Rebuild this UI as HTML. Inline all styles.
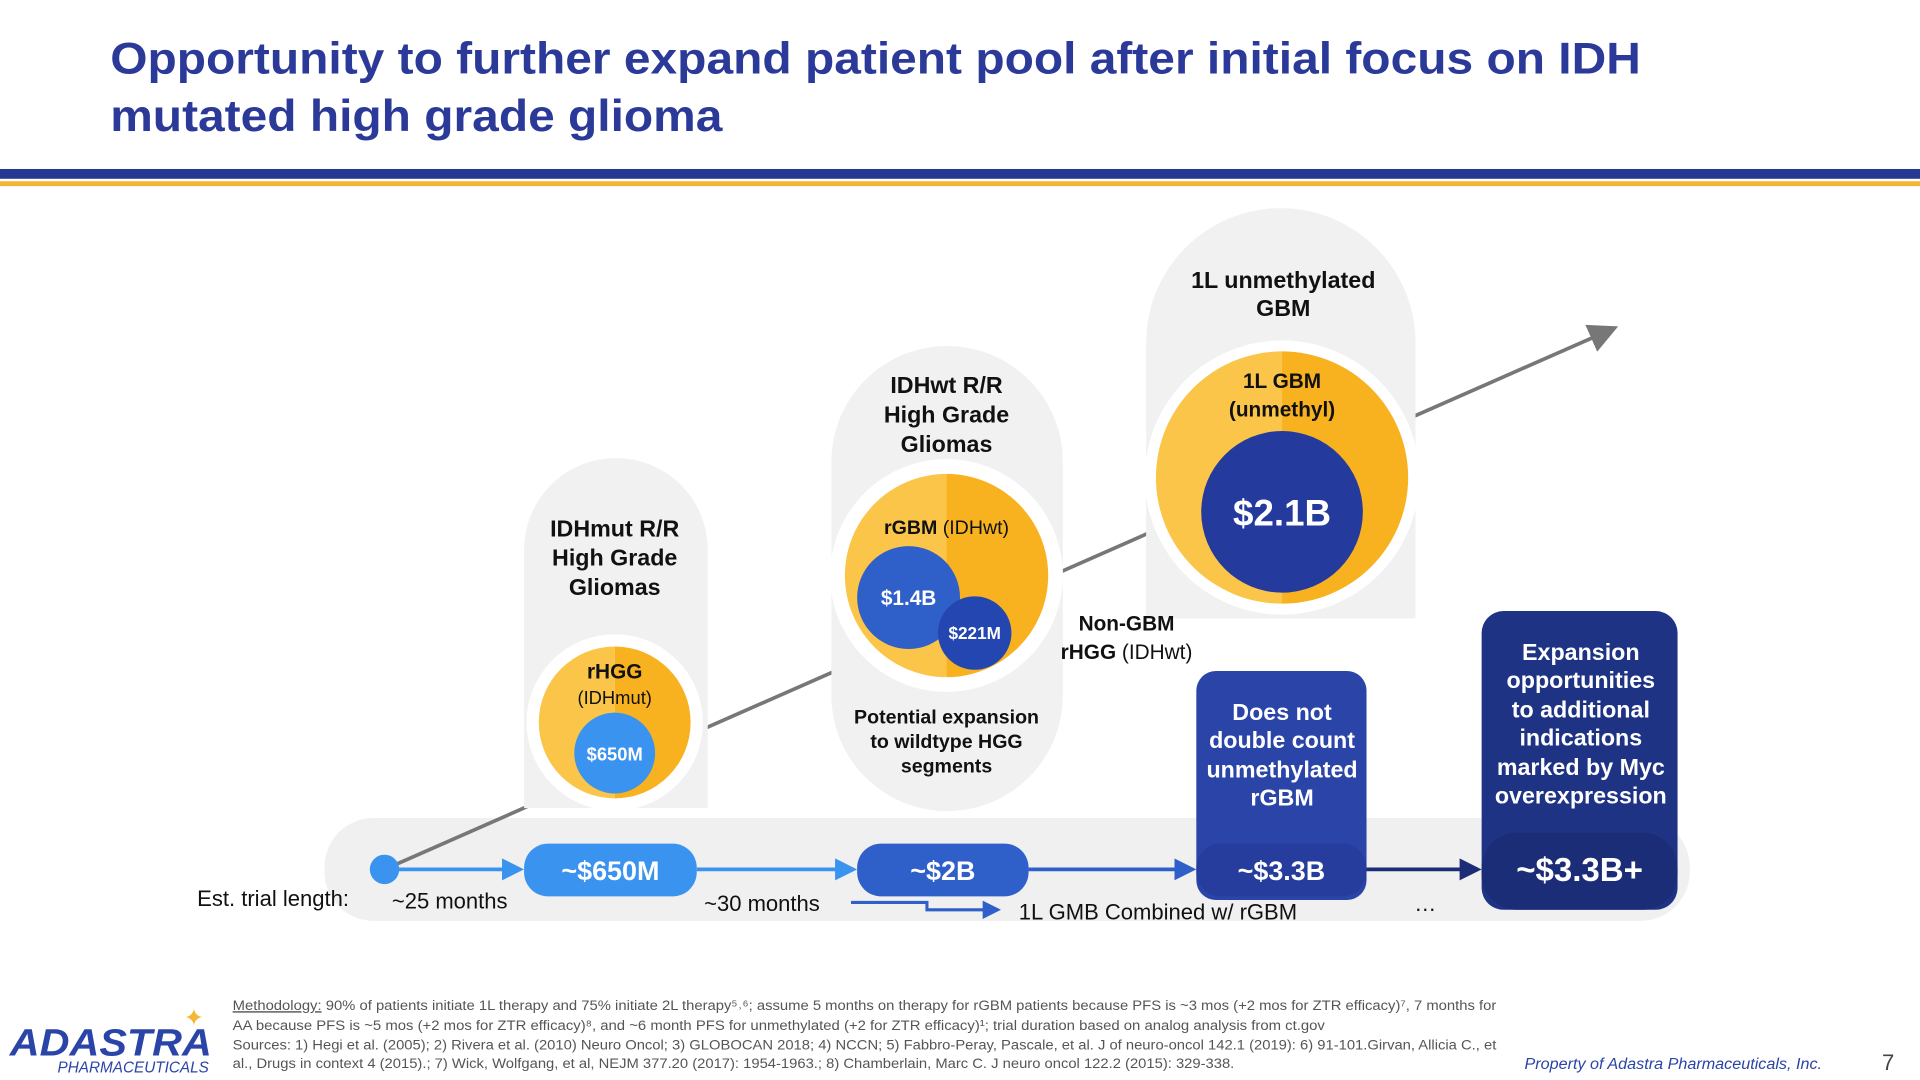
<!DOCTYPE html>
<html><head><meta charset="utf-8"><style>
html,body{margin:0;padding:0;background:#fff;width:1920px;height:1080px;overflow:hidden}
svg{display:block}
text{font-family:"Liberation Sans",sans-serif}
</style></head><body>
<svg id="s" width="1920" height="1080" viewBox="0 0 1568 882" xmlns="http://www.w3.org/2000/svg">
<defs>
<marker id="ag" markerWidth="8" markerHeight="8" refX="6" refY="4" orient="auto"><path d="M0,0 L8,4 L0,8 z" fill="#777"/></marker>
<marker id="ab1" markerWidth="6" markerHeight="6" refX="5" refY="3" orient="auto"><path d="M0,0 L6,3 L0,6 z" fill="#3a93ef"/></marker>
<marker id="ab2" markerWidth="6" markerHeight="6" refX="5" refY="3" orient="auto"><path d="M0,0 L6,3 L0,6 z" fill="#2f5fc9"/></marker>
<marker id="ab3" markerWidth="6" markerHeight="6" refX="5" refY="3" orient="auto"><path d="M0,0 L6,3 L0,6 z" fill="#1c2d78"/></marker>
</defs>
<g font-weight="bold" font-size="36" fill="#2b3a99">
<text x="90" y="60" textLength="1250" lengthAdjust="spacingAndGlyphs">Opportunity to further expand patient pool after initial focus on IDH</text>
<text x="90" y="107" textLength="500" lengthAdjust="spacingAndGlyphs">mutated high grade glioma</text>
</g>
<rect x="0" y="138" width="1568" height="8" fill="#24398f"/>
<rect x="0" y="148" width="1568" height="4" fill="#f5b731"/>

<rect x="265" y="668" width="1115" height="84" rx="40" fill="#f0f0f0"/>
<line x1="314" y1="710" x2="1316" y2="269" stroke="#777" stroke-width="3" marker-end="url(#ag)"/>

<g>
<path d="M428,660 V449 A75,75 0 0 1 578,449 V660 Z" fill="#f1f1f1"/>
<g font-weight="bold" font-size="19" fill="#111" text-anchor="middle"><text x="502" y="438">IDHmut R/R</text><text x="502" y="462">High Grade</text><text x="502" y="486">Gliomas</text></g>
<circle cx="502" cy="590" r="72" fill="#fff"/>
<path d="M502,528 A62,62 0 0 0 502,652 Z" fill="#fbc54a"/><path d="M502,528 A62,62 0 0 1 502,652 Z" fill="#f8b21f"/>
<text x="502" y="554" text-anchor="middle" font-weight="bold" font-size="17" fill="#111">rHGG</text>
<text x="502" y="575" text-anchor="middle" font-size="15" fill="#111">(IDHmut)</text>
<circle cx="502" cy="615" r="33" fill="#3a93ef"/>
<text x="502" y="621" text-anchor="middle" font-weight="bold" font-size="15" fill="#fff">$650M</text>
</g>
<g>
<path d="M679,662 V377 A94.5,94.5 0 0 1 868,377 V568 A94.5,94.5 0 0 1 679,568 Z" fill="#f1f1f1"/>
<g font-weight="bold" font-size="19" fill="#111" text-anchor="middle"><text x="773" y="321">IDHwt R/R</text><text x="773" y="345">High Grade</text><text x="773" y="369">Gliomas</text></g>
<circle cx="773" cy="470" r="95" fill="#fff"/>
<path d="M773,387 A83,83 0 0 0 773,553 Z" fill="#fbc54a"/><path d="M773,387 A83,83 0 0 1 773,553 Z" fill="#f8b21f"/>
<text x="773" y="436" text-anchor="middle" font-size="16" fill="#111"><tspan font-weight="bold">rGBM</tspan> (IDHwt)</text>
<circle cx="742" cy="488" r="42" fill="#2f5fc9"/>
<text x="742" y="494" text-anchor="middle" font-weight="bold" font-size="17" fill="#fff">$1.4B</text>
<circle cx="796" cy="517" r="30" fill="#2446b0"/>
<text x="796" y="522" text-anchor="middle" font-weight="bold" font-size="14" fill="#fff">$221M</text>
<g font-weight="bold" font-size="16" fill="#111" text-anchor="middle"><text x="773" y="591">Potential expansion</text><text x="773" y="611">to wildtype HGG</text><text x="773" y="631">segments</text></g>
</g>
<g>
<path d="M936,505 V280 A110,110 0 0 1 1156,280 V505 Z" fill="#f1f1f1"/>
<g font-weight="bold" font-size="19" fill="#111" text-anchor="middle"><text x="1048" y="235">1L unmethylated</text><text x="1048" y="258">GBM</text></g>
<circle cx="1047" cy="390" r="112" fill="#fff"/>
<path d="M1047,287 A103,103 0 0 0 1047,493 Z" fill="#fbc54a"/><path d="M1047,287 A103,103 0 0 1 1047,493 Z" fill="#f8b21f"/>
<g font-weight="bold" font-size="17" fill="#111" text-anchor="middle"><text x="1047" y="317">1L GBM</text><text x="1047" y="340">(unmethyl)</text></g>
<circle cx="1047" cy="418" r="66" fill="#243a9c"/>
<text x="1047" y="429" text-anchor="middle" font-weight="bold" font-size="30" fill="#fff">$2.1B</text>
</g>
<g font-size="17" fill="#111" text-anchor="middle"><text x="920" y="515" font-weight="bold">Non-GBM</text><text x="920" y="538"><tspan font-weight="bold">rHGG</tspan> (IDHwt)</text></g>

<rect x="977" y="548" width="139" height="187" rx="16" fill="#2a44a8"/>
<g font-weight="bold" font-size="19" fill="#fff" text-anchor="middle"><text x="1047" y="588">Does not</text><text x="1047" y="611">double count</text><text x="1047" y="635">unmethylated</text><text x="1047" y="658">rGBM</text></g>
<rect x="1210" y="499" width="160" height="244" rx="18" fill="#1f3385"/>
<g font-weight="bold" font-size="19" fill="#fff" text-anchor="middle"><text x="1291" y="539">Expansion</text><text x="1291" y="562">opportunities</text><text x="1291" y="586">to additional</text><text x="1291" y="609">indications</text><text x="1291" y="633">marked by Myc</text><text x="1291" y="656">overexpression</text></g>

<g id="timeline"></g>

<g font-size="18" fill="#111">
<text x="161" y="740">Est. trial length:</text>
<text x="320" y="742">~25 months</text>
<text x="575" y="744">~30 months</text>
<text x="832" y="751">1L GMB Combined w/ rGBM</text>
<text x="1155" y="744">…</text>
</g>
<path d="M695,737 H757 V743 H815" fill="none" stroke="#2f5fc9" stroke-width="2.5" marker-end="url(#ab2)"/>

<g>
<text x="8" y="862" font-weight="bold" font-style="italic" font-size="31" fill="#2a44a8" textLength="165" lengthAdjust="spacingAndGlyphs">ADASTRA</text>
<text x="150" y="838" font-size="20" fill="#f5b731">✦</text>
<text x="47" y="876" font-style="italic" font-size="12.5" fill="#2a44a8">PHARMACEUTICALS</text>
</g>
<g font-size="11.5" fill="#555">
<text x="190" y="825" textLength="1032" lengthAdjust="spacingAndGlyphs"><tspan text-decoration="underline">Methodology:</tspan> 90% of patients initiate 1L therapy and 75% initiate 2L therapy⁵˒⁶; assume 5 months on therapy for rGBM patients because PFS is ~3 mos (+2 mos for ZTR efficacy)⁷, 7 months for</text>
<text x="190" y="841" textLength="892" lengthAdjust="spacingAndGlyphs">AA because PFS is ~5 mos (+2 mos for ZTR efficacy)⁸, and ~6 month PFS for unmethylated (+2 for ZTR efficacy)¹; trial duration based on analog analysis from ct.gov</text>
<text x="190" y="857" textLength="1032" lengthAdjust="spacingAndGlyphs">Sources: 1) Hegi et al. (2005); 2) Rivera et al. (2010) Neuro Oncol; 3) GLOBOCAN 2018; 4) NCCN; 5) Fabbro-Peray, Pascale, et al. J of neuro-oncol 142.1 (2019): 6) 91-101.Girvan, Allicia C., et</text>
<text x="190" y="872" textLength="818" lengthAdjust="spacingAndGlyphs">al., Drugs in context 4 (2015).; 7) Wick, Wolfgang, et al, NEJM 377.20 (2017): 1954-1963.; 8) Chamberlain, Marc C. J neuro oncol 122.2 (2015): 329-338.</text>
</g>
<text x="1245" y="873" font-style="italic" font-size="12.5" fill="#2a44a8" textLength="243" lengthAdjust="spacingAndGlyphs">Property of Adastra Pharmaceuticals, Inc.</text>
<text x="1537" y="874" font-size="18" fill="#444">7</text>
</svg>
<script>
const marketLabels = ['~$650M', '~$2B', '~$3.3B', '~$3.3B+'];
const marketValuesB = [0.65, 2, 3.3, 3.3];
const NS = 'http://www.w3.org/2000/svg';
const g = document.getElementById('timeline');
const pillX = [428, 700, 977, 1210];
const pillW = [141, 140, 139, 160];
const pillFill = ['#3a93ef', '#2f5fc9', '#263d9e', '#1c2d78'];
const arrowCol = ['#3a93ef', '#3a93ef', '#2f5fc9', '#1c2d78'];
const arrowMk = ['ab1', 'ab1', 'ab2', 'ab3'];
function mk(t, a) { const e = document.createElementNS(NS, t); for (const k in a) e.setAttribute(k, a[k]); g.appendChild(e); return e; }
let prev = 322;
marketLabels.forEach((lab, i) => {
  const ln = mk('line', {x1: prev, y1: 710, x2: pillX[i] - 3, y2: 710, stroke: arrowCol[i], 'stroke-width': 3, 'marker-end': 'url(#' + arrowMk[i] + ')'});
  
  
  const last = i === marketLabels.length - 1;
  const y = last ? 680 : 689, h = last ? 63 : 43;
  const r = mk('rect', {x: pillX[i], y: y, width: pillW[i], height: h, rx: h / 2.2, fill: pillFill[i]});
  
  
  r.setAttribute('data-value', marketValuesB[i]);
  const t = mk('text', {x: pillX[i] + pillW[i] / 2, y: y + h / 2 + 8, 'text-anchor': 'middle', 'font-weight': 'bold', 'font-size': last ? 27 : 22, fill: '#fff'});
  t.textContent = lab;
  
  
  prev = pillX[i] + pillW[i];
});
const dot = mk('circle', {cx: 314, cy: 710, r: 12, fill: '#3a93ef'});


</script>
</body></html>
